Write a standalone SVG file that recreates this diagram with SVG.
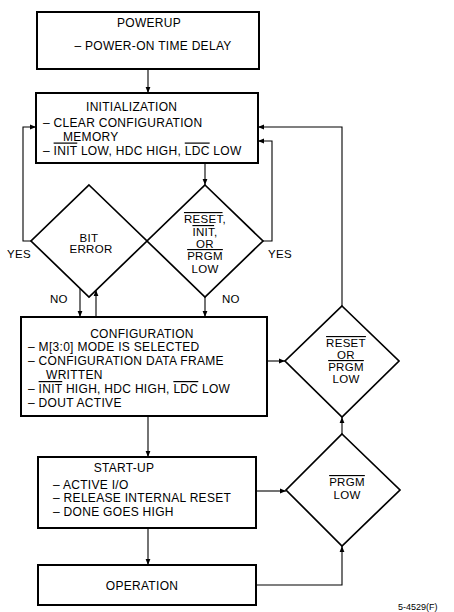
<svg xmlns="http://www.w3.org/2000/svg" width="454" height="612" viewBox="0 0 454 612">
<defs>
<style>
.box{fill:#fff;stroke:#000;stroke-width:2}
.dia{fill:#fff;stroke:#000;stroke-width:1.7}
.c{fill:none;stroke:#000;stroke-width:1.1}
text{font-family:"Liberation Sans",Arial,sans-serif;font-size:12px;letter-spacing:0.3px;fill:#000}
.m{text-anchor:middle}
.s{font-size:11.5px}
.ol{text-decoration:overline}
.id{font-size:9px;letter-spacing:0}
</style>
<marker id="ah" viewBox="0 0 10 10" refX="10" refY="5" markerWidth="6" markerHeight="6" orient="auto" markerUnits="userSpaceOnUse">
<path d="M0,1 L10,5 L0,9 z" fill="#000"/>
</marker>
</defs>
<rect width="454" height="612" fill="#fff"/>
<g id="connectors">
<path class="c" d="M148,69 V93" marker-end="url(#ah)"/>
<path class="c" d="M205,163 V185" marker-end="url(#ah)"/>
<path class="c" d="M31,241 H23 V127 H36" marker-end="url(#ah)"/>
<path class="c" d="M263,241 H272 V141 H258" marker-end="url(#ah)"/>
<path class="c" d="M342,306 V127 H258" marker-end="url(#ah)"/>
<path class="c" d="M80,289 V317" marker-end="url(#ah)"/>
<path class="c" d="M96,317 V290" marker-end="url(#ah)"/>
<path class="c" d="M205,297 V317" marker-end="url(#ah)"/>
<path class="c" d="M267,361 H285" marker-end="url(#ah)"/>
<path class="c" d="M148,416 V457" marker-end="url(#ah)"/>
<path class="c" d="M256,491 H286" marker-end="url(#ah)"/>
<path class="c" d="M148,528 V565" marker-end="url(#ah)"/>
<path class="c" d="M256,585 H342 V546" marker-end="url(#ah)"/>
<path class="c" d="M342,434 V417" marker-end="url(#ah)"/>
</g>
<g id="powerup">
<rect class="box" x="37" y="12" width="222" height="57"/>
<text class="m" x="149" y="27">POWERUP</text>
<text class="m" x="153" y="50">– POWER-ON TIME DELAY</text>
</g>
<g id="initialization">
<rect class="box" x="36" y="93" width="222" height="70"/>
<text x="86" y="111">INITIALIZATION</text>
<text x="43" y="127">– CLEAR CONFIGURATION</text>
<text x="63" y="140.5">MEMORY</text>
<text x="43" y="154.5">– <tspan class="ol">INIT</tspan> LOW, HDC HIGH, <tspan class="ol">LDC</tspan> LOW</text>
</g>
<g id="bit-error">
<polygon class="dia" points="89,185 147,241 89,297 31,241"/>
<text class="m s" x="89" y="241.5">BIT</text>
<text class="m s" x="91" y="252.5">ERROR</text>
</g>
<g id="reset-init-prgm">
<polygon class="dia" points="205,185 263,241 205,297 147,241"/>
<text class="m s" x="205" y="223"><tspan class="ol">RESET</tspan>,</text>
<text class="m s" x="205" y="236"><tspan class="ol">INIT</tspan>,</text>
<text class="m s" x="205" y="247.5">OR</text>
<text class="m s" x="205" y="260"><tspan class="ol">PRGM</tspan></text>
<text class="m s" x="205" y="273">LOW</text>
</g>
<g id="labels">
<text class="s" x="7" y="258">YES</text>
<text class="s" x="268" y="258">YES</text>
<text class="s" x="50" y="303">NO</text>
<text class="s" x="222" y="303">NO</text>
</g>
<g id="configuration">
<rect class="box" x="21" y="317" width="246" height="99"/>
<text class="m" x="142" y="337.5">CONFIGURATION</text>
<text x="28" y="351">– M[3:0] MODE IS SELECTED</text>
<text x="28" y="364.5">– CONFIGURATION DATA FRAME</text>
<text x="46" y="378.5">WRITTEN</text>
<text x="28" y="393">– <tspan class="ol">INIT</tspan> HIGH, HDC HIGH, <tspan class="ol">LDC</tspan> LOW</text>
<text x="28" y="407">– DOUT ACTIVE</text>
</g>
<g id="reset-or-prgm">
<polygon class="dia" points="342,306 399,361 342,417 285,361"/>
<text class="m s" x="346" y="347"><tspan class="ol">RESET</tspan></text>
<text class="m s" x="346" y="358.5">OR</text>
<text class="m s" x="346" y="371"><tspan class="ol">PRGM</tspan></text>
<text class="m s" x="346" y="383">LOW</text>
</g>
<g id="start-up">
<rect class="box" x="38" y="457" width="218" height="71"/>
<text class="m" x="124" y="472">START-UP</text>
<text x="53" y="488.5">– ACTIVE I/O</text>
<text x="53" y="502">– RELEASE INTERNAL RESET</text>
<text x="53" y="515.5">– DONE GOES HIGH</text>
</g>
<g id="prgm-low">
<polygon class="dia" points="342,434 400,490 342,546 286,490"/>
<text class="m s" x="347" y="486"><tspan class="ol">PRGM</tspan></text>
<text class="m s" x="347" y="499">LOW</text>
</g>
<g id="operation">
<rect class="box" x="38" y="565" width="218" height="40"/>
<text class="m" x="142" y="590">OPERATION</text>
</g>
<text class="id" x="398" y="610">5-4529(F)</text>
</svg>
